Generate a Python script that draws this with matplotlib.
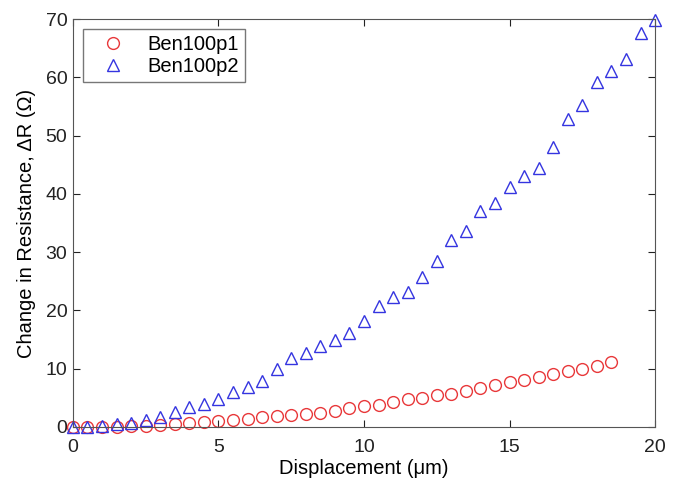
import numpy as np
import matplotlib
matplotlib.use("Agg")
import matplotlib.pyplot as plt

plt.rcParams.update({"font.family": ["Liberation Sans", "DejaVu Sans"], "font.size": 14})

# displacement steps (um)
disp_p1 = np.arange(0, 18.51, 0.5)
disp_p2 = np.arange(0, 20.01, 0.5)

# Ben100p1 resistance change (ohm)
dr_p1 = [0.0, 0.0, 0.0, 0.0, 0.1, 0.2, 0.3, 0.4, 0.6, 0.8,
         1.0, 1.15, 1.4, 1.6, 1.8, 2.0, 2.2, 2.4, 2.7, 3.2,
         3.5, 3.8, 4.2, 4.8, 5.0, 5.4, 5.7, 6.2, 6.6, 7.2,
         7.7, 8.1, 8.6, 9.0, 9.5, 10.0, 10.5, 11.2]

# Ben100p2 resistance change (ohm)
dr_p2 = [0.0, 0.0, 0.2, 0.4, 0.6, 1.15, 1.7, 2.6, 3.4, 3.9,
         4.7, 5.9, 6.9, 7.8, 9.9, 11.8, 12.7, 13.8, 14.9, 16.1,
         18.1, 20.7, 22.3, 23.1, 25.8, 28.4, 32.0, 33.7, 37.0, 38.4,
         41.2, 43.0, 44.5, 48.0, 52.8, 55.2, 59.2, 61.1, 63.1, 67.7,
         69.8]

fig = plt.figure(figsize=(6.81, 4.8), dpi=100)
ax = fig.add_axes([0.107, 0.111, 0.855, 0.849])

ax.plot(disp_p1, dr_p1, "o", mfc="none", mec="#e8383a", mew=1.0, ms=8.5,
        label="Ben100p1", clip_on=False)
ax.plot(disp_p2, dr_p2, "^", mfc="none", mec="#3434e0", mew=1.0, ms=9,
        label="Ben100p2", clip_on=False)

ax.set_xlim(0, 20)
ax.set_ylim(0, 70)
ax.set_xticks([0, 5, 10, 15, 20])
ax.set_yticks(range(0, 71, 10))
ax.tick_params(direction="in", top=True, right=True, length=5,
               labelsize=14, colors="#222222")
ax.tick_params(axis="x", pad=9)
ax.tick_params(axis="y", pad=4)
for s in ax.spines.values():
    s.set_color("#555555")

ax.set_xlabel("Displacement (\u03bcm)", fontsize=14.5, labelpad=2)
ax.set_ylabel("Change in Resistance, \u0394R (\u03a9)", fontsize=14.5, labelpad=7)

leg = ax.legend(loc="upper left", fontsize=14.5, frameon=True, fancybox=False,
                borderaxespad=0.5, handletextpad=0.5, handlelength=2.4,
                borderpad=0.3, labelspacing=0.15)
leg.get_frame().set_edgecolor("#555555")
leg.get_frame().set_linewidth(1.0)

fig.savefig("out.png", dpi=100)
